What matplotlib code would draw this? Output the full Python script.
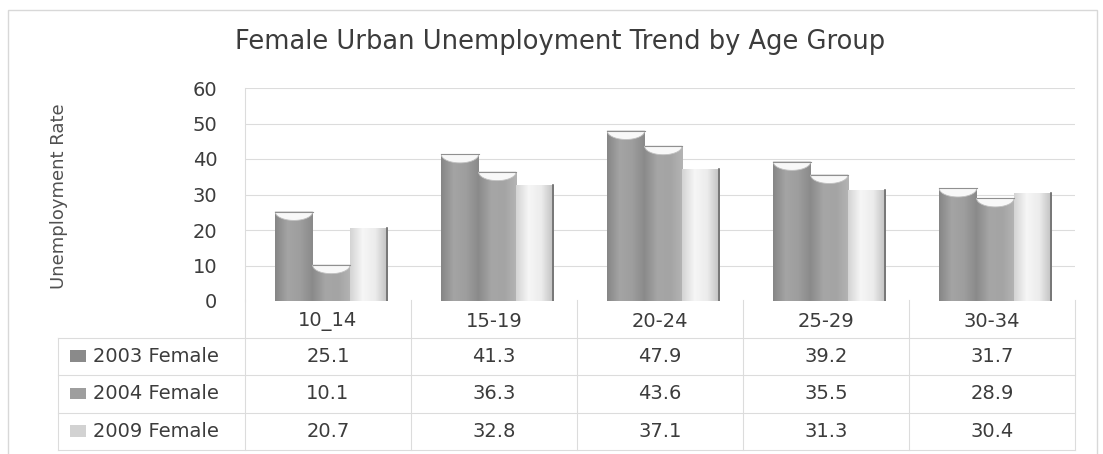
import numpy as np
import matplotlib
matplotlib.use('Agg')
import matplotlib.pyplot as plt
from matplotlib.colors import LinearSegmentedColormap
from matplotlib.patches import Rectangle, Polygon

plt.rcParams['font.family'] = ['DejaVu Sans']

# Chart data
age_groups = ['10_14', '15-19', '20-24', '25-29', '30-34']
series_names = ['2003 Female', '2004 Female', '2009 Female']
rate_2003 = [25.1, 41.3, 47.9, 39.2, 31.7]
rate_2004 = [10.1, 36.3, 43.6, 35.5, 28.9]
rate_2009 = [20.7, 32.8, 37.1, 31.3, 30.4]
series_values = [rate_2003, rate_2004, rate_2009]
y_ticks = [0, 10, 20, 30, 40, 50, 60]

text_col = '#3c3c3c'
grid_col = '#dcdcdc'

# shading across each cylinder, left to right
bar_cmaps = [
    LinearSegmentedColormap.from_list('c03', ['#868686', '#a4a4a4', '#9e9e9e', '#8a8a8a']),
    LinearSegmentedColormap.from_list('c04', ['#8c8c8c', '#a6a6a6', '#a4a4a4', '#b4b4b4']),
    LinearSegmentedColormap.from_list('c09', ['#d4d4d4', '#f6f6f6', '#ececec', '#c0c0c0']),
]
has_cap = [True, True, False]

W, H = 1103, 454
fig = plt.figure(figsize=(W / 100, H / 100), dpi=100)

# light frame around the chart
fig.patches.append(Rectangle((8 / W, -0.01), (W - 14) / W, (H - 10) / H + 0.01,
                             transform=fig.transFigure, fill=False,
                             edgecolor='#d8d8d8', lw=1.0))

ax_left, ax_right = 245 / W, 1075 / W
ax = fig.add_axes([ax_left, (H - 301) / H, ax_right - ax_left, 213 / H])
ax.set_xlim(-0.5, len(age_groups) - 0.5)
ax.set_ylim(0, 60)
ax.set_yticks(y_ticks)
ax.set_yticklabels([str(t) for t in y_ticks], fontsize=14, color=text_col)
ax.tick_params(axis='y', length=0, pad=20)
ax.set_xticks([])
for s in ['top', 'right', 'bottom']:
    ax.spines[s].set_visible(False)
ax.spines['left'].set_color(grid_col)
for t in y_ticks[1:]:
    ax.axhline(t, color=grid_col, lw=0.8, zorder=0)
ax.set_ylabel('Unemployment Rate', fontsize=13, color='#505050')
ax.yaxis.set_label_coords((68 - 245) / 830, 0.49)

bar_w = 0.225
grad = np.linspace(0, 1, 64).reshape(1, -1)
for si, vals in enumerate(series_values):
    for ci, v in enumerate(vals):
        cx = ci + (si - 1) * bar_w + 0.02
        x0 = cx - bar_w / 2
        rect = Rectangle((x0, 0), bar_w, v, facecolor='none', edgecolor='none')
        ax.add_patch(rect)
        im = ax.imshow(grad, cmap=bar_cmaps[si], aspect='auto',
                       extent=(x0, x0 + bar_w, 0, v), zorder=2)
        im.set_clip_path(rect)
        if has_cap[si]:
            # lighter hollow at the top of the cylinder
            t = np.linspace(np.pi, 2 * np.pi, 40)
            pts = np.column_stack([cx + bar_w / 2 * np.cos(t), v + 2.4 * np.sin(t)])
            ax.add_patch(Polygon(pts, closed=True, facecolor='#f8f8f8',
                                 edgecolor='#c0c0c0', lw=0.6, zorder=3))
            ax.plot([x0, x0 + bar_w], [v, v], color='#909090', lw=0.8, zorder=3)
        else:
            ax.plot([x0 + bar_w, x0 + bar_w], [0, v], color='#6a6a6a', lw=1.2, zorder=3)

ax.set_xlim(-0.5, len(age_groups) - 0.5)
ax.set_ylim(0, 60)

# data table under the plot
tax = fig.add_axes([ax_left, (H - 450) / H, ax_right - ax_left, 150 / H])
tax.set_xlim(-0.5, len(age_groups) - 0.5)
tax.set_ylim(4, 0)
tax.axis('off')
leg_left = -0.5 - (245 - 58) / 166

for r in range(1, 5):
    tax.plot([leg_left, len(age_groups) - 0.5], [r, r], color=grid_col, lw=0.8, clip_on=False)
tax.plot([leg_left, leg_left], [1, 4], color=grid_col, lw=0.8, clip_on=False)
for c in range(len(age_groups) + 1):
    tax.plot([c - 0.5, c - 0.5], [0, 4], color=grid_col, lw=0.8, clip_on=False)

for ci, g in enumerate(age_groups):
    tax.text(ci, 0.58, g, ha='center', va='center', fontsize=14, color=text_col)

icon_cols = ['#8a8a8a', '#9e9e9e', '#d2d2d2']
for si, name in enumerate(series_names):
    row = si + 1.5
    tax.add_patch(Rectangle((leg_left + 0.07, row - 0.16), 0.1, 0.3,
                            facecolor=icon_cols[si], edgecolor='none', clip_on=False))
    tax.text(leg_left + 0.21, row, name, ha='left', va='center', fontsize=14, color=text_col)
    for ci, v in enumerate(series_values[si]):
        tax.text(ci, row, f'{v:.1f}', ha='center', va='center', fontsize=14, color=text_col)

fig.text(560 / W, (H - 42) / H, 'Female Urban Unemployment Trend by Age Group',
         ha='center', va='center', fontsize=18.5, color=text_col)

fig.savefig('out.png', dpi=100)
